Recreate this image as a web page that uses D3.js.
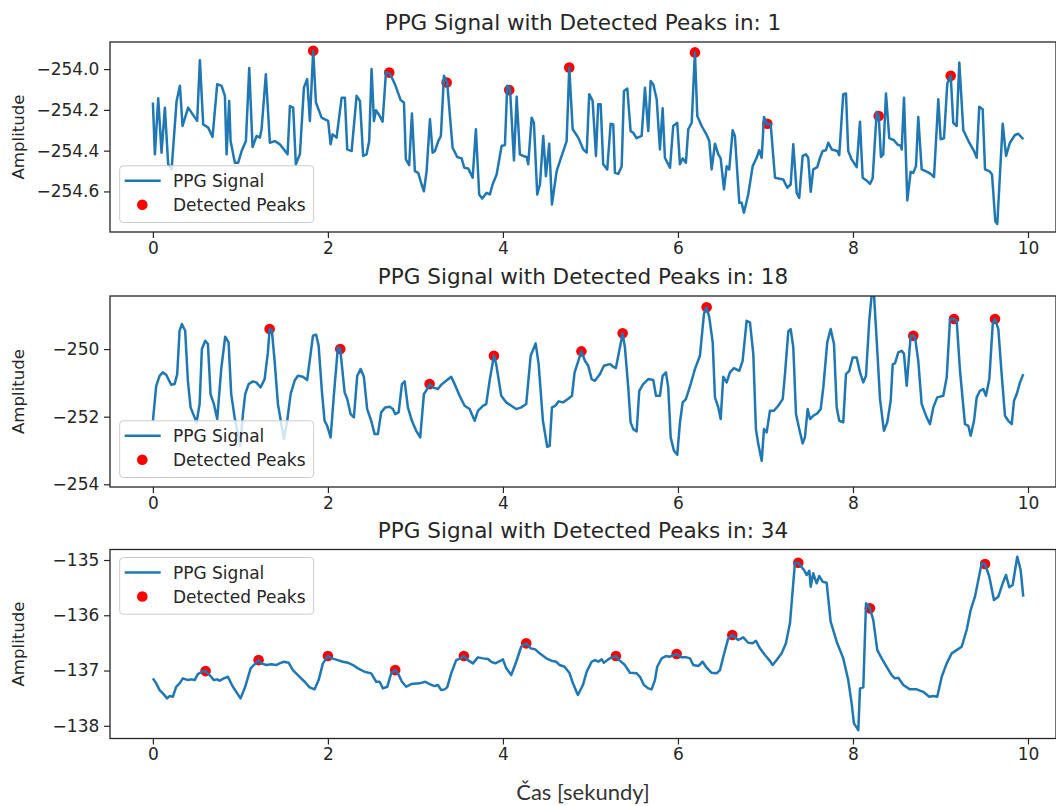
<!DOCTYPE html>
<html>
<head>
<meta charset="utf-8">
<script src="https://cdn.jsdelivr.net/npm/d3@7"></script>
<style>
  body { margin: 0; background: #fff; }
  svg { display: block; font-family: "DejaVu Sans", sans-serif; }
</style>
</head>
<body>
<div id="chart"></div>
<script>
// ---- data ----
const xTicks = [0, 2, 4, 6, 8, 10];

// signal 1
const t1 = [
  0.000,0.023,0.061,0.099,0.137,0.175,0.214,0.271,0.309,0.339,
  0.403,0.480,0.506,0.537,0.575,0.632,0.682,0.735,0.785,0.823,
  0.842,0.872,0.888,0.937,0.975,1.014,1.063,1.101,1.139,1.185,
  1.223,1.242,1.291,1.337,1.394,1.451,1.539,1.566,1.603,1.634,
  1.680,1.726,1.763,1.794,1.832,1.863,1.928,1.966,2.003,2.031,
  2.054,2.099,2.157,2.194,2.221,2.271,2.328,2.366,2.403,2.442,
  2.472,2.499,2.526,2.549,2.586,2.625,2.663,2.709,2.766,2.831,
  2.869,2.891,2.929,2.960,2.994,3.032,3.071,3.097,3.128,3.166,
  3.197,3.223,3.261,3.291,3.326,3.363,3.425,3.478,3.528,3.558,
  3.603,3.654,3.691,3.729,3.763,3.814,3.851,3.882,3.928,3.985,
  4.023,4.049,4.080,4.126,4.157,4.194,4.232,4.271,4.289,4.328,
  4.354,4.392,4.423,4.461,4.491,4.529,4.560,4.614,4.671,4.728,
  4.758,4.797,4.861,4.918,4.957,4.986,5.025,5.063,5.089,5.117,
  5.146,5.192,5.231,5.261,5.280,5.318,5.357,5.383,5.421,5.459,
  5.489,5.528,5.585,5.623,5.661,5.688,5.718,5.757,5.794,5.825,
  5.851,5.909,5.946,5.992,6.023,6.054,6.091,6.118,6.157,6.194,
  6.221,6.271,6.328,6.358,6.385,6.423,6.461,6.488,6.526,6.557,
  6.586,6.625,6.651,6.701,6.728,6.754,6.803,6.854,6.899,6.929,
  6.957,6.983,7.021,7.059,7.109,7.203,7.249,7.288,7.318,7.357,
  7.386,7.425,7.463,7.489,7.517,7.546,7.592,7.623,7.654,7.691,
  7.718,7.757,7.821,7.843,7.889,7.920,7.946,7.985,8.042,8.080,
  8.111,8.163,8.194,8.225,8.271,8.294,8.320,8.346,8.377,8.415,
  8.469,8.506,8.545,8.557,8.583,8.621,8.659,8.689,8.720,8.746,
  8.785,8.849,8.888,8.926,8.975,9.002,9.040,9.078,9.117,9.146,
  9.185,9.215,9.261,9.329,9.383,9.414,9.443,9.482,9.509,9.558,
  9.589,9.626,9.649,9.711,9.749,9.794,9.851,9.889,9.946
];
const v1 = [
  -254.164,-254.418,-254.143,-254.410,-254.189,-254.467,-254.492,-254.156,-254.082,-254.279,
  -254.189,-254.238,-254.254,-253.956,-254.271,-254.287,-254.333,-254.074,-254.082,-254.131,
  -254.418,-254.156,-254.353,-254.459,-254.459,-254.402,-254.353,-253.995,-254.382,-254.328,
  -254.336,-254.295,-254.025,-254.361,-254.353,-254.369,-254.418,-254.181,-254.189,-254.467,
  -254.418,-254.091,-254.049,-254.254,-253.910,-254.164,-254.238,-254.246,-254.254,-254.369,
  -254.320,-254.336,-254.140,-254.140,-254.394,-254.402,-254.131,-254.156,-254.426,-254.418,
  -254.353,-254.000,-254.254,-254.202,-254.225,-254.258,-254.017,-254.022,-254.074,-254.152,
  -254.164,-254.443,-254.471,-254.218,-254.500,-254.509,-254.566,-254.599,-254.500,-254.246,
  -254.410,-254.402,-254.353,-254.328,-254.033,-254.066,-254.386,-254.431,-254.438,-254.484,
  -254.487,-254.533,-254.295,-254.615,-254.635,-254.607,-254.615,-254.566,-254.517,-254.377,
  -254.372,-254.082,-254.091,-254.448,-254.136,-254.418,-254.426,-254.431,-254.467,-254.238,
  -254.263,-254.615,-254.566,-254.328,-254.525,-254.366,-254.664,-254.500,-254.426,-254.353,
  -253.992,-254.295,-254.336,-254.394,-254.410,-254.123,-254.156,-254.426,-254.172,-254.172,
  -254.467,-254.492,-254.268,-254.271,-254.509,-254.514,-254.476,-254.107,-254.095,-254.304,
  -254.312,-254.339,-254.328,-254.091,-254.304,-254.058,-254.074,-254.148,-254.394,-254.192,
  -254.435,-254.484,-254.279,-254.263,-254.467,-254.438,-254.459,-254.295,-254.263,-253.918,
  -254.230,-254.279,-254.323,-254.353,-254.492,-254.366,-254.418,-254.438,-254.590,-254.476,
  -254.492,-254.300,-254.328,-254.656,-254.656,-254.705,-254.615,-254.476,-254.435,-254.398,
  -254.435,-254.235,-254.271,-254.268,-254.533,-254.541,-254.582,-254.566,-254.369,-254.607,
  -254.632,-254.426,-254.418,-254.435,-254.602,-254.492,-254.481,-254.435,-254.402,-254.398,
  -254.361,-254.394,-254.402,-254.422,-254.123,-254.120,-254.402,-254.443,-254.481,-254.258,
  -254.533,-254.549,-254.563,-254.536,-254.209,-254.230,-254.431,-254.418,-254.120,-254.339,
  -254.349,-254.369,-254.377,-254.394,-254.140,-254.644,-254.504,-254.509,-254.476,-254.235,
  -254.492,-254.504,-254.514,-254.530,-254.148,-254.344,-254.339,-254.071,-254.033,-254.263,
  -254.279,-253.968,-254.300,-254.361,-254.402,-254.435,-254.185,-254.197,-254.492,-254.500,
  -254.517,-254.746,-254.760,-254.268,-254.426,-254.361,-254.323,-254.317,-254.344
];
const peakT1 = [1.832, 2.701, 3.357, 4.072, 4.758, 6.194, 7.021, 8.294, 9.117];
const peakV1 = [-253.910, -254.017, -254.066, -254.103, -253.992, -253.918, -254.268, -254.230, -254.033];
const yTicks1 = [-254.6, -254.4, -254.2, -254.0];

// signal 18
const t2 = [
  0.000,0.038,0.077,0.114,0.152,0.209,0.248,0.278,0.305,0.331,
  0.369,0.400,0.431,0.499,0.534,0.560,0.598,0.629,0.659,0.697,
  0.735,0.781,0.826,0.865,0.895,0.934,0.998,1.029,1.055,1.094,
  1.143,1.181,1.231,1.277,1.314,1.334,1.360,1.391,1.429,1.497,
  1.535,1.574,1.619,1.657,1.714,1.763,1.802,1.829,1.866,1.894,
  1.931,1.962,1.992,2.031,2.069,2.114,2.141,
  2.191,2.221,2.259,2.297,2.335,2.374,2.411,2.449,2.495,2.534,
  2.571,2.609,2.655,2.705,2.743,2.769,2.808,2.846,2.877,2.914,
  2.960,3.009,3.055,3.097,3.123,3.162,3.200,3.257,3.295,3.352,
  3.409,3.448,3.505,3.562,3.619,3.677,3.714,3.771,3.809,3.848,
  3.897,3.923,3.981,4.038,4.095,4.152,4.209,4.266,4.317,4.374,
  4.408,4.457,4.506,4.534,4.560,4.598,4.637,4.686,4.743,4.789,
  4.819,4.897,4.937,4.975,5.014,5.051,5.109,5.154,5.223,5.261,
  5.291,5.368,5.394,5.432,5.459,5.489,5.528,5.558,5.603,5.661,
  5.718,5.749,5.794,5.825,5.863,5.889,5.917,5.954,5.992,6.023,
  6.054,6.091,6.145,6.194,6.251,6.297,6.328,6.358,6.397,6.423,
  6.461,6.488,6.518,6.557,6.594,6.640,6.701,6.739,6.785,6.823,
  6.861,6.891,6.918,6.957,6.983,7.014,7.051,7.097,7.146,7.197,
  7.223,7.261,7.288,7.318,7.349,7.386,7.425,7.451,7.482,7.509,
  7.546,7.592,7.631,7.661,7.706,7.745,7.783,7.814,7.843,7.889,
  7.920,7.958,7.997,8.042,8.080,8.118,8.149,8.186,8.214,8.240,
  8.278,8.309,8.354,8.392,8.431,8.454,8.480,8.518,8.557,8.583,
  8.614,8.659,8.689,8.709,8.746,8.785,8.842,8.880,8.918,8.963,
  9.032,9.071,9.109,9.154,9.185,9.223,9.280,9.318,9.345,9.383,
  9.414,9.451,9.489,9.520,9.558,9.597,9.623,9.661,9.699,9.737,
  9.775,9.814,9.840,9.871,9.909,9.946
];
const v2 = [
  -252.130,-251.086,-250.790,-250.689,-250.760,-251.056,-251.036,-250.740,-249.459,-249.260,
  -249.459,-250.938,-251.725,-252.169,-251.627,-250.000,-249.754,-249.852,-251.331,-251.627,
  -252.071,-250.592,-249.636,-249.802,-251.331,-252.021,-252.861,-251.923,-251.331,-251.036,
  -250.956,-250.985,-251.133,-250.888,-250.098,-249.408,-249.459,-250.346,-251.627,-252.663,
  -252.121,-251.331,-250.938,-250.790,-250.820,-250.917,-250.148,-249.607,-249.577,-249.902,
  -251.234,-252.121,-252.269,-252.612,-251.331,-249.950,-250.000,
  -251.281,-251.479,-251.923,-252.021,-250.790,-250.592,-250.820,-251.775,-252.121,-252.515,
  -252.515,-251.873,-251.725,-251.707,-251.775,-251.923,-251.873,-251.036,-250.956,-251.725,
  -252.121,-252.417,-252.612,-251.331,-251.234,-251.036,-251.133,-251.183,-251.056,-250.938,
  -250.820,-251.036,-251.382,-251.678,-251.775,-252.121,-251.825,-251.678,-251.627,-250.938,
  -250.198,-250.444,-251.382,-251.577,-251.678,-251.775,-251.725,-251.627,-250.198,-249.831,
  -250.444,-252.121,-252.891,-252.861,-251.725,-251.678,-251.547,-251.577,-251.479,-251.382,
  -250.689,-250.068,-250.346,-250.494,-250.888,-250.938,-250.740,-250.494,-250.444,-250.524,
  -250.562,-249.535,-249.950,-251.133,-252.169,-252.367,-252.435,-251.234,-251.036,-250.888,
  -250.917,-251.382,-251.382,-250.790,-250.689,-251.133,-252.612,-253.009,-253.127,-252.169,
  -251.577,-251.479,-251.036,-250.592,-250.198,-248.964,-248.766,-249.062,-249.802,-251.429,
  -251.725,-252.071,-250.820,-250.985,-250.689,-250.562,-250.642,-250.346,-249.163,-249.210,
  -250.148,-252.367,-252.811,-253.305,-252.367,-252.464,-251.825,-251.825,-251.678,-251.479,
  -250.740,-249.476,-249.408,-249.950,-251.923,-252.367,-252.790,-252.612,-251.775,-252.071,
  -251.973,-251.902,-251.775,-251.133,-249.802,-249.408,-249.852,-251.725,-252.121,-252.169,
  -250.740,-250.642,-250.246,-250.246,-250.689,-250.985,-250.790,-249.163,-248.380,-248.380,
  -250.050,-251.479,-252.417,-252.169,-251.530,-250.444,-250.423,-250.098,-250.050,-250.148,
  -251.086,-249.607,-249.607,-249.654,-250.346,-251.627,-252.021,-252.219,-251.725,-251.429,
  -251.382,-250.837,-249.112,-249.112,-249.163,-250.642,-252.219,-252.269,-252.565,-252.121,
  -251.429,-251.234,-251.183,-251.382,-250.888,-249.260,-249.112,-249.408,-250.740,-251.973,
  -252.121,-252.219,-251.530,-251.331,-250.985,-250.740
];
const peakT2 = [1.334, 2.141, 3.162, 3.897, 4.897, 5.368, 6.328, 8.689, 9.154, 9.623];
const peakV2 = [-249.408, -250.000, -251.036, -250.198, -250.068, -249.535, -248.766, -249.607, -249.112, -249.112];
const yTicks2 = [-254, -252, -250];

// signal 34
const t3 = [
  0.000,0.038,0.077,0.114,0.163,0.191,0.229,0.266,0.305,0.343,
  0.400,0.438,0.477,0.514,0.560,0.602,0.648,0.697,0.735,0.762,
  0.811,0.857,0.914,1.002,1.055,1.117,1.208,1.238,1.295,1.352,
  1.409,1.448,1.497,1.551,1.600,1.657,1.734,1.791,1.848,1.894,
  1.943,2.000,2.046,2.114,2.171,2.229,2.286,2.343,2.419,2.495,
  2.552,2.591,2.629,2.678,2.723,2.769,2.800,2.846,2.895,2.952,
  3.048,3.112,3.162,3.219,3.257,3.295,3.334,3.363,3.409,3.466,
  3.517,3.554,3.600,3.657,3.714,3.771,3.829,3.866,3.912,3.951,
  4.000,4.038,4.095,4.152,4.209,4.266,4.317,4.369,4.419,4.495,
  4.552,4.609,4.648,4.705,4.762,4.800,4.857,4.914,4.957,5.014,
  5.051,5.089,5.128,5.154,5.203,5.242,5.291,5.329,5.394,5.451,
  5.528,5.566,5.611,5.661,5.699,5.737,5.763,5.814,5.863,5.901,
  5.985,6.042,6.099,6.137,6.175,6.232,6.282,6.320,6.385,6.442,
  6.480,6.518,6.575,6.621,6.689,6.746,6.803,6.854,6.891,6.937,
  6.994,7.043,7.082,7.128,7.185,7.234,7.280,7.337,7.375,7.394,
  7.440,7.471,7.501,7.517,7.546,7.585,7.615,7.654,7.699,7.745,
  7.814,7.889,7.946,7.985,8.011,8.061,8.080,8.118,8.149,8.194,
  8.232,8.278,8.328,8.385,8.442,8.480,8.518,8.575,8.651,8.728,
  8.803,8.872,8.918,8.963,9.014,9.071,9.128,9.185,9.242,9.299,
  9.345,9.394,9.471,9.509,9.558,9.611,9.661,9.711,9.749,9.786,
  9.825,9.877,9.916,9.946
];
const v3 = [
  -137.142,-137.232,-137.354,-137.414,-137.504,-137.462,-137.474,-137.294,-137.232,-137.142,
  -137.173,-137.160,-137.173,-137.064,-137.022,-137.010,-137.082,-137.173,-137.160,-137.185,
  -137.142,-137.113,-137.294,-137.504,-137.294,-136.961,-136.811,-136.870,-136.901,-136.888,
  -136.901,-136.870,-136.841,-136.859,-136.992,-137.082,-137.203,-137.305,-137.341,-137.173,
  -136.870,-136.738,-136.780,-136.811,-136.841,-136.859,-136.901,-136.961,-137.022,-137.051,
  -137.203,-137.203,-137.323,-137.294,-137.051,-136.992,-137.051,-137.203,-137.294,-137.245,
  -137.232,-137.203,-137.245,-137.281,-137.263,-137.354,-137.341,-137.305,-137.051,-136.811,
  -136.780,-136.738,-136.811,-136.870,-136.762,-136.780,-136.793,-136.841,-136.870,-136.841,
  -136.798,-136.961,-137.082,-136.841,-136.570,-136.508,-136.599,-136.617,-136.689,-136.780,
  -136.823,-136.841,-136.901,-136.932,-137.051,-137.232,-137.444,-137.263,-137.022,-136.841,
  -136.811,-136.841,-136.798,-136.859,-136.798,-136.762,-136.738,-136.811,-136.901,-137.041,
  -137.051,-137.113,-137.263,-137.323,-137.341,-137.173,-136.932,-136.780,-136.738,-136.751,
  -136.702,-136.762,-136.762,-136.780,-136.901,-136.919,-136.841,-136.932,-137.041,-137.051,
  -136.992,-136.751,-136.418,-136.358,-136.448,-136.400,-136.497,-136.508,-136.461,-136.599,
  -136.720,-136.811,-136.901,-136.811,-136.689,-136.508,-136.146,-135.049,-135.049,-135.091,
  -135.181,-135.272,-135.194,-135.483,-135.241,-135.422,-135.290,-135.393,-135.411,-136.117,
  -136.479,-136.780,-137.173,-137.595,-137.957,-138.078,-137.323,-137.305,-135.784,-135.875,
  -136.086,-136.630,-136.780,-136.932,-137.082,-137.142,-137.131,-137.263,-137.341,-137.341,
  -137.385,-137.475,-137.462,-137.475,-137.113,-136.870,-136.689,-136.630,-136.570,-136.267,
  -135.905,-135.664,-135.060,-135.072,-135.302,-135.724,-135.664,-135.422,-135.272,-135.494,
  -135.453,-134.940,-135.181,-135.664
];
const peakT3 = [0.602, 1.208, 2.000, 2.769, 3.554, 4.266, 5.291, 5.985, 6.621, 7.375, 8.194, 9.509];
const peakV3 = [-137.010, -136.811, -136.738, -136.992, -136.738, -136.508, -136.738, -136.702, -136.358, -135.049, -135.875, -135.072];
const yTicks3 = [-138, -137, -136, -135];

// ---- layout ----
const W = 1056, H = 806;
const left = 110, right = 1056;
const xLim = [-0.49, 10.32];
const blue = "#1f77b4", red = "#ff0000", ink = "#262626";
const fs = 17; // tick / legend font size

const panels = [
  { title: "PPG Signal with Detected Peaks in: 1", t: t1, v: v1, pt: peakT1, pv: peakV1,
    top: 42, bottom: 232, yLim: [-254.799, -253.867], ticks: yTicks1, fmt: ".1f", legend: "lower" },
  { title: "PPG Signal with Detected Peaks in: 18", t: t2, v: v2, pt: peakT2, pv: peakV2,
    top: 296, bottom: 487, yLim: [-254.08, -248.43], ticks: yTicks2, fmt: "d", legend: "lower" },
  { title: "PPG Signal with Detected Peaks in: 34", t: t3, v: v3, pt: peakT3, pv: peakV3,
    top: 549.5, bottom: 738.5, yLim: [-138.23, -134.81], ticks: yTicks3, fmt: "d", legend: "upper" }
];

const svg = d3.select("#chart").append("svg")
    .attr("width", W).attr("height", H);
svg.append("rect").attr("width", W).attr("height", H).attr("fill", "#fff");

const x = d3.scaleLinear().domain(xLim).range([left, right]);

panels.forEach((p, i) => {
  const y = d3.scaleLinear().domain(p.yLim).range([p.bottom, p.top]);
  const g = svg.append("g");

  const clipId = "clip" + i;
  svg.append("clipPath").attr("id", clipId).append("rect")
      .attr("x", left).attr("y", p.top)
      .attr("width", right - left).attr("height", p.bottom - p.top);

  const plot = g.append("g").attr("clip-path", `url(#${clipId})`);

  // peaks (drawn under the line, as in matplotlib)
  plot.append("g").selectAll("circle")
      .data(d3.zip(p.pt, p.pv))
      .join("circle")
      .attr("cx", d => x(d[0]))
      .attr("cy", d => y(d[1]))
      .attr("r", 5.3)
      .attr("fill", red);

  plot.append("path")
      .datum(d3.zip(p.t, p.v))
      .attr("fill", "none")
      .attr("stroke", blue)
      .attr("stroke-width", 2.5)
      .attr("stroke-linejoin", "round")
      .attr("d", d3.line().x(d => x(d[0])).y(d => y(d[1])));

  // axes
  const xAxis = g.append("g")
      .attr("transform", `translate(0,${p.bottom})`)
      .call(d3.axisBottom(x).tickValues(xTicks).tickFormat(d3.format("d"))
        .tickSize(6).tickPadding(3.5));
  const yAxis = g.append("g")
      .attr("transform", `translate(${left},0)`)
      .call(d3.axisLeft(y).tickValues(p.ticks).tickFormat(d3.format(p.fmt))
        .tickSize(6).tickPadding(4.7));
  [xAxis, yAxis].forEach(a => {
    a.select(".domain").remove();
    a.selectAll("line").attr("stroke", ink).attr("stroke-width", 1.2);
    a.selectAll("text").attr("fill", ink)
      .style("font-family", "'DejaVu Sans', sans-serif").style("font-size", fs + "px");
  });

  // frame
  g.append("rect")
      .attr("x", left).attr("y", p.top)
      .attr("width", right - left).attr("height", p.bottom - p.top)
      .attr("fill", "none").attr("stroke", ink).attr("stroke-width", 1.3);

  // title
  g.append("text")
      .attr("x", (left + right) / 2).attr("y", p.top - 12)
      .attr("text-anchor", "middle")
      .attr("fill", ink)
      .style("font-size", "21.5px")
      .text(p.title);

  // y label
  g.append("text")
      .attr("transform", `translate(18,${(p.top + p.bottom) / 2}) rotate(-90)`)
      .attr("text-anchor", "middle")
      .attr("dominant-baseline", "central")
      .attr("fill", ink)
      .style("font-size", "16.6px")
      .text("Amplitude");

  // legend
  const lw = 194, lh = 56.7;
  const lx = left + 9.7;
  const ly = p.legend === "lower" ? p.bottom - 9.5 - lh : p.top + 8;
  const lg = g.append("g").attr("transform", `translate(${lx},${ly})`);
  lg.append("rect")
      .attr("width", lw).attr("height", lh).attr("rx", 3.5)
      .attr("fill", "#fff").attr("fill-opacity", 0.8)
      .attr("stroke", "#cccccc").attr("stroke-width", 1);
  lg.append("line")
      .attr("x1", 5).attr("x2", 41).attr("y1", 15).attr("y2", 15)
      .attr("stroke", blue).attr("stroke-width", 2.5);
  lg.append("circle")
      .attr("cx", 22.6).attr("cy", 39).attr("r", 5.3).attr("fill", red);
  lg.selectAll("text.lab")
      .data(["PPG Signal", "Detected Peaks"])
      .join("text")
      .attr("class", "lab")
      .attr("x", 53.3).attr("y", (d, k) => k ? 39 : 15)
      .attr("dominant-baseline", "central")
      .attr("fill", ink)
      .style("font-size", fs + "px")
      .text(d => d);
});

// shared x label
svg.append("text")
    .attr("x", (left + right) / 2).attr("y", 791)
    .attr("text-anchor", "middle")
    .attr("dominant-baseline", "central")
    .attr("fill", "#333")
    .style("font-family", "Lato, sans-serif")
    .style("font-size", "22px")
    .text("Čas [sekundy]");
</script>
</body>
</html>
